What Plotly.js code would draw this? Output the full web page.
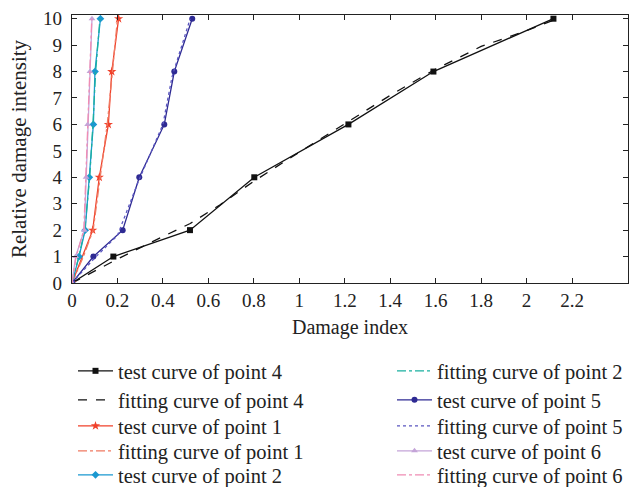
<!DOCTYPE html>
<html><head><meta charset="utf-8">
<script src="https://cdn.plot.ly/plotly-3.0.1.min.js"></script>
<style>html,body{margin:0;padding:0;background:#fff}#c{width:629px;height:487px}</style>
</head><body><div id="c"></div>
<script>
// Data
const test4X = [0, 0.182, 0.519, 0.802, 1.216, 1.59, 2.118];
const test4Y = [0, 1, 2, 4, 6, 8, 10];
const fit4X = [0, 0.19, 0.35, 0.52, 0.65, 0.8, 1.0, 1.22, 1.4, 1.59, 1.8, 2.0, 2.12];
const fit4Y = [0, 0.86, 1.55, 2.25, 2.95, 3.85, 4.95, 6.15, 7.1, 8.05, 8.95, 9.55, 9.95];
const test1X = [0, 0.091, 0.12, 0.16, 0.175, 0.205];
const test1Y = [0, 2, 4, 6, 8, 10];
const fit1X = [0, 0.05, 0.093, 0.125, 0.155, 0.178, 0.2];
const fit1Y = [0, 1, 2, 4, 6, 8, 10];
const test2X = [0, 0.031, 0.058, 0.076, 0.094, 0.101, 0.125];
const test2Y = [0, 1, 2, 4, 6, 8, 10];
const fit2X = [0, 0.03, 0.056, 0.078, 0.092, 0.104, 0.123];
const fit2Y = [0, 1, 2, 4, 6, 8, 10];
const test5X = [0, 0.094, 0.223, 0.296, 0.406, 0.45, 0.529];
const test5Y = [0, 1, 2, 4, 6, 8, 10];
const fit5X = [0, 0.1, 0.2, 0.29, 0.4, 0.44, 0.52];
const fit5Y = [0, 0.95, 1.8, 3.8, 6.0, 7.8, 10];
const test6X = [0, 0.016, 0.054, 0.062, 0.069, 0.079, 0.088];
const test6Y = [0, 1, 2, 4, 6, 8, 10];
const fit6X = [0, 0.018, 0.052, 0.06, 0.068, 0.078, 0.087];
const fit6Y = [0, 1, 2, 4, 6, 8, 10];
const xTickVals = [0, 0.2, 0.4, 0.6, 0.8, 1, 1.2, 1.4, 1.6, 1.8, 2, 2.2];
const xTickText = ["0", "0.2", "0.4", "0.6", "0.8", "1", "1.2", "1.4", "1.6", "1.8", "2", "2.2"];
const yTickVals = [0, 1, 2, 3, 4, 5, 6, 7, 8, 9, 10];

const F = "Liberation Serif, Times New Roman, serif";
const lw = 1.3;
const names = ["legend", "legend2", "legend3", "legend4", "legend5", "legend6", "legend7", "legend8", "legend9", "legend10"];
let k = 0;
function tr(name, x, y, color, dash, marker) {
  const t = {type: "scatter", x: x, y: y, name: name, legend: names[k++],
    mode: marker ? "lines+markers" : "lines",
    line: {color: color, width: lw, dash: dash}};
  if (marker) t.marker = {symbol: marker, size: marker === "star" ? 7 : 6, color: color};
  return t;
}
const data = [
  tr("test curve of point 4", test4X, test4Y, "#111111", "solid", "square"),
  tr("fitting curve of point 4", fit4X, fit4Y, "#111111", "dash", null),
  tr("test curve of point 1", test1X, test1Y, "#f0402a", "solid", "star"),
  tr("fitting curve of point 1", fit1X, fit1Y, "#f07a62", "dashdot", null),
  tr("test curve of point 2", test2X, test2Y, "#1a98d0", "solid", "diamond"),
  tr("fitting curve of point 2", fit2X, fit2Y, "#1ab0a0", "dashdot", null),
  tr("test curve of point 5", test5X, test5Y, "#2e2a93", "solid", "circle"),
  tr("fitting curve of point 5", fit5X, fit5Y, "#5a56c0", "dot", null),
  tr("test curve of point 6", test6X, test6Y, "#c4a4d8", "solid", "triangle-up"),
  tr("fitting curve of point 6", fit6X, fit6Y, "#f08cb4", "dashdot", null)
];
const axBase = {showgrid: false, zeroline: false, showline: true, linecolor: "#222", linewidth: 1.3,
  mirror: "ticks", ticks: "inside", ticklen: 5, tickcolor: "#222", tickwidth: 1,
  tickfont: {family: F, size: 19, color: "#222"}};
const layout = {
  width: 629, height: 487,
  margin: {l: 72, r: 1, t: 15, b: 204, autoexpand: false},
  paper_bgcolor: "#fff", plot_bgcolor: "#fff",
  font: {family: F, color: "#222"},
  xaxis: Object.assign({}, axBase, {range: [0, 2.446], tickvals: xTickVals, ticktext: xTickText,
    title: {text: "Damage index", font: {family: F, size: 20, color: "#222"}, standoff: 10}}),
  yaxis: Object.assign({}, axBase, {range: [0, 10.14], tickvals: yTickVals, ticklabelstandoff: 5,
    title: {text: "Relative damage intensity", font: {family: F, size: 21, color: "#222"}, standoff: 10}}),
  showlegend: true
};
// legend placement (pixels -> paper coordinates)
const plotL = 72, plotW = 556, plotT = 15, plotH = 268;
const rowsPx = [371, 400, 426, 451, 475];
const colTextPx = [118, 437];
for (let i = 0; i < 10; i++) {
  const col = Math.floor(i / 5), row = i % 5;
  layout[names[i]] = {
    x: (colTextPx[col] - 45 - plotL) / plotW, xanchor: "left",
    y: 1 - (rowsPx[row] - plotT) / plotH, yanchor: "middle",
    bgcolor: "rgba(0,0,0,0)", borderwidth: 0, itemwidth: 35,
    font: {family: F, size: 20.5, color: "#222"}
  };
}
Plotly.newPlot("c", data, layout, {displayModeBar: false, staticPlot: true});
</script>
</body></html>
